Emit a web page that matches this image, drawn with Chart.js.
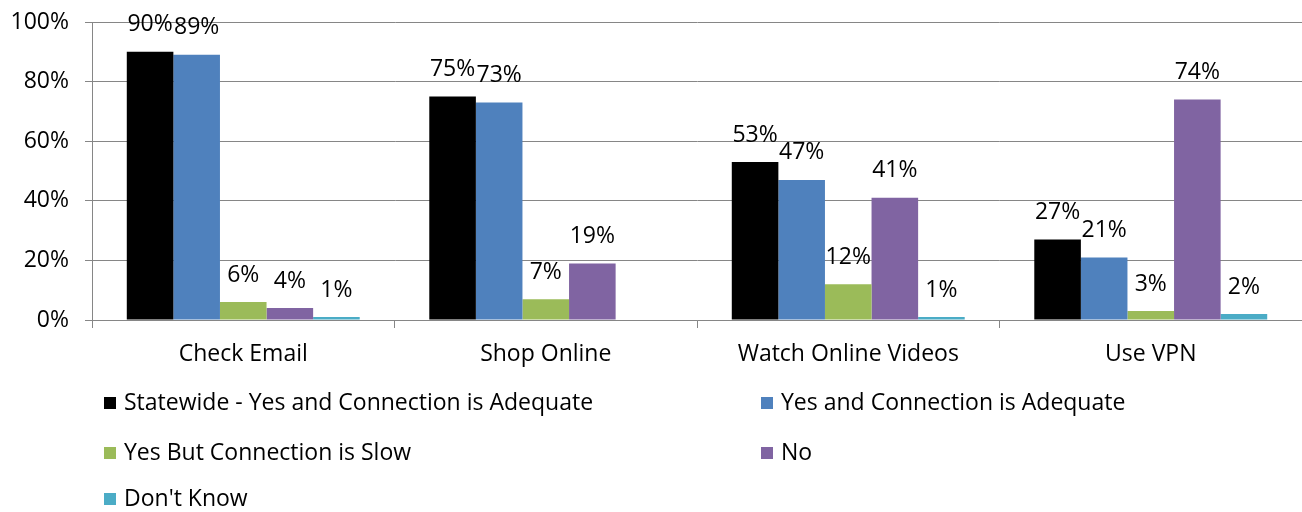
<!DOCTYPE html>
<html>
<head>
<meta charset="utf-8">
<script src="https://cdn.jsdelivr.net/npm/chart.js@4/dist/chart.umd.min.js"></script>
<style>
  html, body { margin: 0; padding: 0; background: #fff; }
  #wrap { position: relative; width: 1302px; height: 512px; }
  canvas { position: absolute; left: 0; top: 0; }
  .leg { position: absolute; font-family: "Open Sans", "Liberation Sans", sans-serif; font-size: 23px; color: #000; white-space: nowrap; line-height: 24px; height: 24px; }
  .leg span.sw { display: inline-block; width: 12px; height: 12px; margin-right: 8px; vertical-align: 1px; }
</style>
</head>
<body>
<div id="wrap">
  <canvas id="c" width="1302" height="512"></canvas>
</div>
<script>
const categories = ["Check Email", "Shop Online", "Watch Online Videos", "Use VPN"];
const seriesNames = ["Statewide - Yes and Connection is Adequate", "Yes and Connection is Adequate", "Yes But Connection is Slow", "No", "Don't Know"];
const statewideYes = [90, 75, 53, 27];
const yesAdequate = [89, 73, 47, 21];
const yesSlow = [6, 7, 12, 3];
const noValues = [4, 19, 41, 74];
const dontKnow = [1, null, 1, 2];
const seriesColors = ["#000000", "#4F81BD", "#9BBB59", "#8064A2", "#4BACC6"];
const yTicks = [0, 20, 40, 60, 80, 100];

const FONT = '"Open Sans", "Liberation Sans", sans-serif';
const FS = 23;
const seriesValues = [statewideYes, yesAdequate, yesSlow, noValues, dontKnow];

const labelPlugin = {
  id: 'barLabels',
  afterDatasetsDraw(chart) {
    const ctx = chart.ctx;
    ctx.save();
    ctx.font = FS + 'px ' + FONT;
    ctx.fillStyle = '#000';
    ctx.textAlign = 'center';
    ctx.textBaseline = 'middle';
    chart.data.datasets.forEach((ds, i) => {
      const meta = chart.getDatasetMeta(i);
      meta.data.forEach((bar, j) => {
        const v = ds.data[j];
        if (v === null || v === undefined) return;
        ctx.fillText(v + '%', bar.x, bar.y - 27);
      });
    });
    ctx.restore();
  }
};

const chart = new Chart(document.getElementById('c'), {
  type: 'bar',
  data: {
    labels: categories,
    datasets: seriesNames.map((n, i) => ({
      label: n,
      data: seriesValues[i],
      backgroundColor: seriesColors[i],
      borderWidth: 0,
      categoryPercentage: 0.77,
      barPercentage: 1.0
    }))
  },
  options: {
    responsive: false,
    animation: false,
    layout: { padding: { left: 0, right: 0, top: 22, bottom: 0 } },
    plugins: { legend: { display: false }, tooltip: { enabled: false } },
    scales: {
      x: {
        grid: { display: true, drawOnChartArea: false, drawTicks: true, tickLength: 8, color: '#868686', offset: true },
        border: { display: true, color: '#868686' },
        ticks: { font: { family: FONT, size: FS }, color: '#000', padding: 13, maxRotation: 0 },
        afterFit(scale) { scale.height = 192; scale.paddingLeft = 0; scale.paddingRight = 0; }
      },
      y: {
        min: 0, max: 100,
        afterBuildTicks(scale) { scale.ticks = yTicks.map(v => ({ value: v })); },
        grid: { color: '#868686', lineWidth: 1, tickLength: 7, drawTicks: true },
        border: { display: true, color: '#868686' },
        ticks: { font: { family: FONT, size: FS }, color: '#000', padding: 16, callback: v => v + '%' },
        afterFit(scale) { scale.width = 92; scale.paddingTop = 0; scale.paddingBottom = 0; }
      }
    }
  },
  plugins: [labelPlugin]
});

// HTML legend built from the series arrays
const legendPos = [
  { left: 104, top: 389 }, { left: 761, top: 389 },
  { left: 104, top: 439 }, { left: 761, top: 439 },
  { left: 104, top: 485 }
];
const wrap = document.getElementById('wrap');
seriesNames.forEach((n, i) => {
  const d = document.createElement('div');
  d.className = 'leg';
  d.style.left = legendPos[i].left + 'px';
  d.style.top = legendPos[i].top + 'px';
  const sw = document.createElement('span');
  sw.className = 'sw';
  sw.style.background = seriesColors[i];
  d.appendChild(sw);
  d.appendChild(document.createTextNode(n));
  wrap.appendChild(d);
});
</script>
</body>
</html>
